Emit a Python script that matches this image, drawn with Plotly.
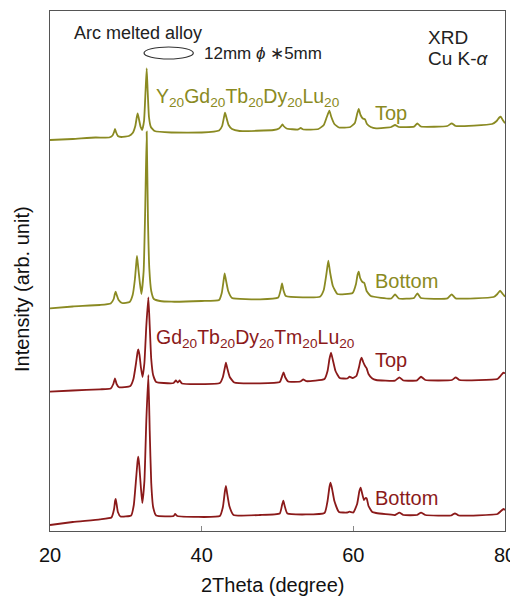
import plotly.graph_objects as go

# ---- data: (2Theta, intensity in arb. units, already offset per pattern) ----
y_top = [
    (20.0, 391), (23.0, 392), (26.0, 393.5), (27.8, 393.5), (28.25, 395.5), (28.45, 399),
    (28.57, 402), (28.7, 399), (28.95, 395), (29.4, 394), (30.4, 395), (30.9, 398),
    (31.25, 405), (31.45, 414), (31.56, 417.7), (31.7, 413), (31.95, 404), (32.15, 401),
    (32.4, 410), (32.6, 440), (32.75, 462.7), (32.88, 440), (33.05, 414), (33.3, 404),
    (33.8, 400), (36.0, 398.5), (40.0, 398.5), (42.3, 400.5), (42.7, 405), (42.95, 414),
    (43.08, 418.3), (43.25, 414), (43.55, 406), (44.0, 402), (45.0, 400), (49.5, 401),
    (50.2, 402.5), (50.5, 405), (50.64, 406.7), (50.8, 405), (51.2, 402.5), (52.7, 401.5),
    (53.06, 403), (53.4, 401.5), (55.4, 402), (56.1, 406), (56.5, 414), (56.84, 420.3),
    (57.1, 414), (57.5, 407), (58.1, 403.5), (59.6, 404), (60.2, 408), (60.5, 417),
    (60.71, 422), (60.95, 416), (61.25, 412.5), (61.54, 411.7), (61.8, 407), (62.3, 404),
    (63.0, 402.7), (65.0, 404), (65.5, 406), (66.0, 404), (68.0, 404.3), (68.44, 407.7),
    (68.9, 404.5), (72.4, 405), (72.97, 407.7), (73.5, 405), (78.3, 407), (78.9, 410),
    (79.25, 413.5), (79.43, 414.3), (79.7, 411), (80.0, 407.7),
]
y_bottom = [
    (20.0, 222.7), (23.0, 224.5), (26.6, 226), (28.0, 227.5), (28.4, 232), (28.55, 237),
    (28.66, 239.3), (28.8, 236), (29.05, 231), (29.5, 228), (30.5, 229), (30.9, 236),
    (31.2, 252), (31.38, 268), (31.47, 275), (31.6, 266), (31.85, 248), (32.05, 237),
    (32.35, 260), (32.55, 320), (32.75, 399.3), (32.92, 310), (33.1, 262), (33.35, 240),
    (33.7, 232), (34.5, 230), (36.0, 229.3), (40.0, 230), (42.3, 231), (42.65, 238),
    (42.9, 251), (43.03, 257.7), (43.2, 251), (43.5, 240), (44.0, 233), (47.7, 231.7),
    (50.1, 233.5), (50.45, 242), (50.6, 247.7), (50.78, 241), (51.1, 235), (55.6, 234.3),
    (56.1, 241), (56.45, 257), (56.7, 270.3), (56.95, 258), (57.3, 245), (57.9, 237),
    (59.9, 238), (60.35, 247), (60.55, 256), (60.71, 259.3), (60.9, 253), (61.2, 249),
    (61.45, 248), (61.75, 240), (62.3, 235), (65.0, 232.5), (65.5, 236.7), (66.0, 232.5),
    (68.0, 233), (68.44, 237.7), (68.9, 233), (72.4, 232.7), (72.97, 236.7), (73.5, 232.7),
    (78.5, 234), (79.0, 237), (79.35, 240.3), (79.7, 237), (80.0, 234.3),
]
gd_top = [
    (20.0, 139.3), (23.0, 140.5), (26.6, 141.7), (28.0, 142.5), (28.35, 147), (28.57, 152.7),
    (28.78, 147), (29.1, 143.7), (30.6, 145), (31.0, 152), (31.35, 168), (31.55, 179),
    (31.65, 181.7), (31.8, 176), (32.0, 163), (32.2, 154), (32.45, 168), (32.7, 205),
    (32.97, 233.7), (33.15, 205), (33.35, 172), (33.6, 156), (34.0, 149), (35.0, 148),
    (36.3, 148), (36.6, 150.5), (36.85, 148.5), (37.1, 150.5), (37.4, 147.5), (42.4, 148),
    (42.8, 154), (43.05, 163), (43.2, 168.3), (43.4, 162), (43.7, 154), (44.3, 148.5),
    (47.7, 147.7), (50.3, 149), (50.62, 155), (50.8, 158.7), (51.0, 154), (51.4, 149.5),
    (53.0, 149.5), (53.4, 151.5), (53.8, 149.8), (56.2, 152), (56.6, 160), (56.85, 172),
    (57.06, 178.3), (57.3, 171), (57.65, 160), (58.2, 153), (59.2, 152.5), (59.5, 154.3),
    (59.9, 153), (60.4, 155), (60.75, 164), (60.95, 171), (61.1, 173.3), (61.3, 169),
    (61.55, 165), (61.76, 162.7), (62.0, 157), (62.5, 152.5), (63.0, 151), (65.5, 150.3),
    (66.07, 153.7), (66.6, 150.5), (68.4, 150.7), (68.93, 154.3), (69.5, 151), (73.0, 151),
    (73.5, 153.7), (74.0, 151), (79.0, 152), (79.4, 155), (79.78, 158.3), (80.0, 157.7),
]
gd_bottom = [
    (20.0, 6), (23.0, 9), (26.6, 11.7), (28.1, 13.5), (28.45, 22), (28.58, 30),
    (28.66, 32), (28.78, 27), (28.95, 19), (29.3, 14.5), (30.7, 15.5), (31.05, 26),
    (31.35, 52), (31.55, 70), (31.65, 74.3), (31.78, 65), (32.0, 42), (32.17, 28),
    (32.45, 50), (32.7, 110), (32.97, 156), (33.15, 100), (33.35, 48), (33.6, 24),
    (34.0, 15.5), (36.3, 15), (36.5, 17), (36.8, 15), (42.4, 15), (42.8, 24),
    (43.05, 39), (43.2, 45), (43.35, 38), (43.65, 25), (44.2, 16), (47.7, 16),
    (50.3, 17.5), (50.6, 26), (50.77, 30.3), (50.95, 25), (51.3, 17.5), (56.2, 18),
    (56.6, 30), (56.85, 44), (57.0, 48.3), (57.2, 42), (57.5, 30), (58.1, 19),
    (59.2, 18.5), (59.5, 19.3), (60.0, 18.5), (60.5, 27), (60.8, 40), (60.97, 43.3),
    (61.15, 38), (61.4, 31), (61.6, 33), (61.76, 32.7), (62.0, 25), (62.5, 19),
    (63.0, 18), (65.5, 16), (66.07, 18.3), (66.6, 16), (68.4, 16), (68.93, 18.3),
    (69.5, 16), (72.9, 15.5), (73.4, 17.7), (73.9, 15.5), (79.0, 17), (79.4, 19.5),
    (79.8, 22), (80.0, 21),
]
x_ticks = [20, 40, 60, 80]

OLIVE = "#8a8a22"
DARKRED = "#8b1a1a"
FONT = "Liberation Sans, Arial, sans-serif"

fig = go.Figure()
for pts, col in [(y_top, OLIVE), (y_bottom, OLIVE), (gd_top, DARKRED), (gd_bottom, DARKRED)]:
    xs = [p[0] for p in pts]
    ys = [p[1] for p in pts]
    fig.add_trace(go.Scatter(x=xs, y=ys, mode="lines",
                             line=dict(color=col, width=1.8, shape="spline", smoothing=0.4),
                             showlegend=False, hoverinfo="skip"))

def ann(x, y, text, color="#222", size=16, xanchor="left"):
    fig.add_annotation(x=x, y=y, text=text, showarrow=False, xanchor=xanchor,
                       yanchor="middle", font=dict(family=FONT, size=size, color=color))

ann(31.6, 498, "Arc melted alloy", size=18, xanchor="center")
ann(40.0, 478, "12mm <i>ϕ</i> ∗5mm", size=17)
ann(69.6, 494, "XRD", size=19)
ann(69.6, 473, "Cu K-<i>α</i>", size=19)
ann(33.7, 434, "Y<sub>20</sub>Gd<sub>20</sub>Tb<sub>20</sub>Dy<sub>20</sub>Lu<sub>20</sub>", color=OLIVE, size=19.5)
ann(62.6, 418, "Top", color=OLIVE, size=20)
ann(62.6, 250, "Bottom", color=OLIVE, size=20)
ann(33.7, 193, "Gd<sub>20</sub>Tb<sub>20</sub>Dy<sub>20</sub>Tm<sub>20</sub>Lu<sub>20</sub>", color=DARKRED, size=19.5)
ann(62.6, 171, "Top", color=DARKRED, size=20)
ann(62.6, 33, "Bottom", color=DARKRED, size=20)

# axis titles placed as paper annotations
fig.add_annotation(x=0.49, y=-0.104, xref="paper", yref="paper", text="2Theta (degree)",
                   showarrow=False, xanchor="center", yanchor="middle",
                   font=dict(family=FONT, size=20, color="#111"))
fig.add_annotation(x=-0.062, y=0.465, xref="paper", yref="paper", text="Intensity (arb. unit)",
                   showarrow=False, textangle=-90, xanchor="center", yanchor="middle",
                   font=dict(family=FONT, size=20, color="#111"))

# sample sketch (ellipse)
fig.add_shape(type="circle", xref="x", yref="y", x0=32.4, x1=38.9, y0=472, y1=484,
              line=dict(color="#333", width=1.2))

# page body has an 8px margin, so the figure is 8px smaller and shifted margins
fig.update_layout(
    width=510, height=594,
    margin=dict(l=42, r=13, t=3, b=71, autoexpand=False),
    paper_bgcolor="white", plot_bgcolor="white",
    font=dict(family=FONT, color="#111"),
)
fig.update_xaxes(range=[20, 80], tickvals=x_ticks, ticks="inside", ticklen=5,
                 tickcolor="#888", showline=True, linecolor="#555", linewidth=1.2,
                 mirror=True, showgrid=False, zeroline=False, automargin=False,
                 ticklabelstandoff=6,
                 tickfont=dict(size=20, family=FONT, color="#111"))
fig.update_yaxes(range=[0, 520], showticklabels=False, ticks="", showline=True,
                 linecolor="#555", linewidth=1.2, mirror=True, showgrid=False, zeroline=False,
                 automargin=False)

fig.write_html("out.html")
